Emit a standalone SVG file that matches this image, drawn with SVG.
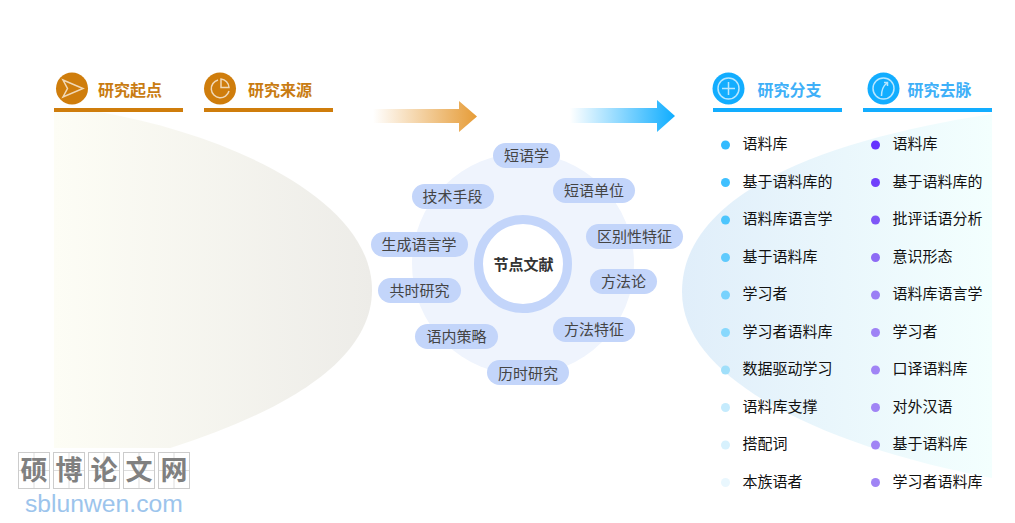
<svg xmlns="http://www.w3.org/2000/svg" width="1015" height="523" viewBox="0 0 1015 523">
<style>
text{font-family:"Noto Sans CJK SC","Noto Sans",sans-serif}
.pill{fill:#c3d5fa}
.pt{font-size:15px;fill:#444;text-anchor:middle;dominant-baseline:central}
.li{font-size:15px;fill:#111;dominant-baseline:central}
.ho{font-size:16px;font-weight:700;fill:#c97c12;dominant-baseline:central}
.hb{font-size:16px;font-weight:700;fill:#3fb0f8;dominant-baseline:central}
.bo{fill:#cf7d0c}.bb{fill:#12adff}
.ic{fill:none;stroke:#fff;stroke-opacity:.7;stroke-width:1.5}
.wb{fill:#fff;stroke:#ccc;stroke-width:1}
.wl{stroke:#ddd;stroke-width:1}
.wt{font-size:27px;font-weight:700;fill:#808080;text-anchor:middle}
</style>
<defs>
<linearGradient id="gl" x1="0" x2="1" y1="0" y2="0"><stop offset="0" stop-color="#fdfdf5"/><stop offset="1" stop-color="#edece8"/></linearGradient>
<linearGradient id="gr" x1="0" x2="1" y1="0" y2="0"><stop offset="0" stop-color="#e0eefa"/><stop offset="1" stop-color="#f3fffe"/></linearGradient>
<linearGradient id="ao" x1="0" x2="1" y1="0" y2="0"><stop offset="0" stop-color="#e69c37" stop-opacity="0"/><stop offset="1" stop-color="#e69c37"/></linearGradient>
<linearGradient id="ab" x1="0" x2="1" y1="0" y2="0"><stop offset="0" stop-color="#0fadff" stop-opacity="0"/><stop offset="1" stop-color="#0fadff"/></linearGradient>
<clipPath id="cl"><rect x="54" y="112" width="330" height="336"/></clipPath>
</defs>

<g id="bg-left" clip-path="url(#cl)"><path d="M54,106 L100,112 C230,135 372,200 372,290 C372,380 230,435 100,468 L54,474 Z" fill="url(#gl)"/></g>
<path id="bg-right" d="M992,114 C820,140 682,195 682,292 C682,385 840,450 992,478 Z" fill="url(#gr)"/>

<g id="header-start"><rect class="bo" x="54" y="108" width="129" height="4"/><circle class="bo" cx="72" cy="88.500" r="16"/><path class="ic" d="M63,80 L83,88.500 L63,97 L67.500,88.500 Z"/><text class="ho" x="98" y="89">研究起点</text></g>
<g id="header-source"><rect class="bo" x="204" y="108" width="129" height="4"/><circle class="bo" cx="220" cy="88.500" r="16"/><path class="ic" d="M218,80 A9,9 0 1 0 229,91"/><path class="ic" d="M221,79 A9,9 0 0 1 229,87.500 L221,87.500 Z"/><text class="ho" x="248" y="89">研究来源</text></g>
<g id="header-branch"><rect class="bb" x="713" y="108" width="129" height="4"/><circle class="bb" cx="728.500" cy="88.500" r="16"/><circle class="ic" cx="728.500" cy="88.500" r="10.500"/><path class="ic" d="M728.500,82 V95 M722,88.500 H735"/><text class="hb" x="757.500" y="89">研究分支</text></g>
<g id="header-trend"><rect class="bb" x="863" y="108" width="129" height="4"/><circle class="bb" cx="883.500" cy="88.500" r="16"/><circle class="ic" cx="883.500" cy="88.500" r="10.500"/><path class="ic" d="M881.500,96 C881.500,90 883,86 887,83 M884,82.500 L887.500,82.500 L887.500,86"/><text class="hb" x="907.500" y="89">研究去脉</text></g>

<g id="connectors">
<path d="M373,109 H459 V101 L477,116.500 L459,132 V123 H373 Z" fill="url(#ao)"/>
<path d="M570,108 H657 V100 L675,116 L657,132 V123 H570 Z" fill="url(#ab)"/>
</g>

<circle id="halo" cx="523" cy="264" r="111" fill="#eff4fd"/>
<g id="center"><circle cx="523" cy="264" r="44.500" fill="#fff" stroke="#c3d5fa" stroke-width="9"/><text x="523.500" y="263" font-size="15" font-weight="700" fill="#333" text-anchor="middle" dominant-baseline="central">节点文献</text></g>

<g id="n1"><rect class="pill" x="493" y="143" width="67" height="25" rx="12.500"/><text class="pt" x="526.500" y="154">短语学</text></g>
<g id="n2"><rect class="pill" x="553" y="178" width="82" height="25" rx="12.500"/><text class="pt" x="594" y="189">短语单位</text></g>
<g id="n3"><rect class="pill" x="412" y="184" width="82" height="25" rx="12.500"/><text class="pt" x="452.500" y="195">技术手段</text></g>
<g id="n4"><rect class="pill" x="586" y="224" width="97" height="25" rx="12.500"/><text class="pt" x="634.500" y="235">区别性特征</text></g>
<g id="n5"><rect class="pill" x="371" y="232" width="97" height="25" rx="12.500"/><text class="pt" x="419" y="243">生成语言学</text></g>
<g id="n6"><rect class="pill" x="590" y="269" width="67" height="25" rx="12.500"/><text class="pt" x="623.500" y="280">方法论</text></g>
<g id="n7"><rect class="pill" x="378" y="278" width="83" height="25" rx="12.500"/><text class="pt" x="419.500" y="289">共时研究</text></g>
<g id="n8"><rect class="pill" x="553" y="317" width="82" height="25" rx="12.500"/><text class="pt" x="594" y="328">方法特征</text></g>
<g id="n9"><rect class="pill" x="415" y="324" width="83" height="25" rx="12.500"/><text class="pt" x="456.500" y="335">语内策略</text></g>
<g id="n10"><rect class="pill" x="487" y="360" width="82" height="25" rx="12.500"/><text class="pt" x="528" y="372">历时研究</text></g>

<g id="list-branch">
<g id="b1"><circle cx="725.500" cy="145" r="4.500" fill="#33bbff"/><text class="li" x="742.500" y="142.500">语料库</text></g>
<g id="b2"><circle cx="725.500" cy="182.500" r="4.500" fill="#3fc0ff"/><text class="li" x="742.500" y="180">基于语料库的</text></g>
<g id="b3"><circle cx="725.500" cy="220" r="4.500" fill="#4cc5fd"/><text class="li" x="742.500" y="217.500">语料库语言学</text></g>
<g id="b4"><circle cx="725.500" cy="257.500" r="4.500" fill="#5fcafd"/><text class="li" x="742.500" y="255">基于语料库</text></g>
<g id="b5"><circle cx="725.500" cy="295" r="4.500" fill="#78d2fd"/><text class="li" x="742.500" y="292.500">学习者</text></g>
<g id="b6"><circle cx="725.500" cy="332.500" r="4.500" fill="#88d8fd"/><text class="li" x="742.500" y="330">学习者语料库</text></g>
<g id="b7"><circle cx="725.500" cy="370" r="4.500" fill="#a0dffa"/><text class="li" x="742.500" y="367.500">数据驱动学习</text></g>
<g id="b8"><circle cx="725.500" cy="407.500" r="4.500" fill="#c5ebfd"/><text class="li" x="742.500" y="405">语料库支撑</text></g>
<g id="b9"><circle cx="725.500" cy="445" r="4.500" fill="#d7f1fd"/><text class="li" x="742.500" y="442.500">搭配词</text></g>
<g id="b10"><circle cx="725.500" cy="482.500" r="4.500" fill="#e9f7fe"/><text class="li" x="742.500" y="480">本族语者</text></g>
</g>
<g id="list-trend">
<g id="t1"><circle cx="875.500" cy="145" r="4.500" fill="#6633ff"/><text class="li" x="892.500" y="142.500">语料库</text></g>
<g id="t2"><circle cx="875.500" cy="182.500" r="4.500" fill="#7040fb"/><text class="li" x="892.500" y="180">基于语料库的</text></g>
<g id="t3"><circle cx="875.500" cy="220" r="4.500" fill="#7e56f7"/><text class="li" x="892.500" y="217.500">批评话语分析</text></g>
<g id="t4"><circle cx="875.500" cy="257.500" r="4.500" fill="#8d6bf5"/><text class="li" x="892.500" y="255">意识形态</text></g>
<g id="t5"><circle cx="875.500" cy="295" r="4.500" fill="#9a7ef5"/><text class="li" x="892.500" y="292.500">语料库语言学</text></g>
<g id="t6"><circle cx="875.500" cy="332.500" r="4.500" fill="#9e82f5"/><text class="li" x="892.500" y="330">学习者</text></g>
<g id="t7"><circle cx="875.500" cy="370" r="4.500" fill="#a084f5"/><text class="li" x="892.500" y="367.500">口译语料库</text></g>
<g id="t8"><circle cx="875.500" cy="407.500" r="4.500" fill="#a084f5"/><text class="li" x="892.500" y="405">对外汉语</text></g>
<g id="t9"><circle cx="875.500" cy="445" r="4.500" fill="#a084f5"/><text class="li" x="892.500" y="442.500">基于语料库</text></g>
<g id="t10"><circle cx="875.500" cy="482.500" r="4.500" fill="#a084f5"/><text class="li" x="892.500" y="480">学习者语料库</text></g>
</g>

<g id="watermark">
<rect class="wb" x="18.500" y="452.500" width="31" height="36"/><path class="wl" d="M34,453 V488 M19,470.500 H49"/><text class="wt" x="34" y="480">硕</text>
<rect class="wb" x="53.500" y="452.500" width="31" height="36"/><path class="wl" d="M69,453 V488 M54,470.500 H84"/><text class="wt" x="69" y="480">博</text>
<rect class="wb" x="88.500" y="452.500" width="31" height="36"/><path class="wl" d="M104,453 V488 M89,470.500 H119"/><text class="wt" x="104" y="480">论</text>
<rect class="wb" x="123.500" y="452.500" width="31" height="36"/><path class="wl" d="M139,453 V488 M124,470.500 H154"/><text class="wt" x="139" y="480">文</text>
<rect class="wb" x="158.500" y="452.500" width="31" height="36"/><path class="wl" d="M174,453 V488 M159,470.500 H189"/><text class="wt" x="174" y="480">网</text>
<text x="25" y="512" style="font-family:'Liberation Sans',sans-serif" font-size="24.700" fill="#9cc4ec">sblunwen.com</text>
</g>
</svg>
